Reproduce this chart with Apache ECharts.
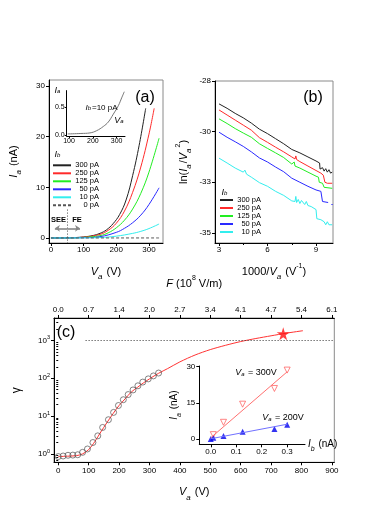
<!DOCTYPE html>
<html><head><meta charset="utf-8">
<script src="https://cdn.jsdelivr.net/npm/echarts@6/dist/echarts.min.js"></script>
<style>html,body{margin:0;padding:0;background:#fff}#c{width:390px;height:505px}</style>
</head><body><div id="c"></div>
<script>
const FONT = 'Liberation Sans';
// ---------- Panel (a): I_a vs V_a ----------
const namesA = ['300 pA','250 pA','125 pA','50 pA','10 pA','0 pA'];
const colorsA = ['#222222','#ff2a2a','#22ee22','#2a2aff','#33eeee','#555555'];
const ia300 = [[0,0],[50,0.02],[100,0.2],[130,0.5],[150,0.9],[170,1.6],[190,2.8],[210,4.6],[230,7.5],[250,12.3],[270,18.3],[290,25.6]];
const ia250 = [[0,0],[50,0.02],[100,0.15],[150,0.7],[175,1.5],[200,2.9],[225,5.3],[250,9.0],[275,14.0],[300,20.5],[316,25.6]];
const ia125 = [[0,0],[50,0.01],[100,0.1],[150,0.45],[175,1.0],[200,2.0],[225,3.5],[250,5.7],[275,8.8],[300,13.0],[331,19.7]];
const ia50  = [[0,0],[100,0.05],[150,0.25],[200,1.1],[225,1.9],[250,3.0],[275,4.5],[300,6.6],[331,9.9]];
const ia10  = [[0,0],[100,0.02],[150,0.08],[200,0.35],[250,0.9],[275,1.3],[300,1.85],[331,2.75]];
const ia0   = [[0,0],[331,0]];
const xTicksA = [0,100,200,300];
const yTicksA = [0,10,20,30];
const seeFeV = 50;            // SEE / FE boundary (V)
const seeFeLine = [5.6,-1];   // vertical extent (nA)
const arrowY = 1.9;           // arrow level (nA)
const arrowEnds = [12,89];    // arrow tips (V)
// inset (a)
const insetA = [[95,0.017],[150,0.025],[188,0.035],[216,0.075],[244,0.15],[265,0.23],[286,0.37],[307,0.52],[321,0.66],[332,0.77]];
const xTicksAi = [100,200,300];
const yTicksAi = [0,0.5];
// ---------- Panel (b): ln(Ia/Va^2) vs 1000/Va ----------
const namesB = ['300 pA','250 pA','125 pA','50 pA','10 pA'];
const lb300 = [[3.0,-29.13],[3.5,-29.35],[4.0,-29.6],[4.5,-29.82],[5.0,-30.08],[5.5,-30.38],[6.0,-30.6],[6.5,-30.85],[7.0,-31.1],[7.5,-31.38],[8.0,-31.55],[8.5,-31.75],[9.0,-31.95],[9.22,-32.05],[9.25,-32.35],[9.4,-32.28],[9.5,-32.45],[9.6,-32.33],[9.7,-32.5],[9.8,-32.38],[9.9,-32.55],[10.0,-32.5]];
const lb250 = [[3.0,-29.43],[3.5,-29.68],[4.0,-29.93],[4.5,-30.18],[5.0,-30.43],[5.5,-30.8],[6.0,-31.03],[6.5,-31.27],[7.0,-31.5],[7.5,-31.75],[7.7,-31.85],[7.75,-31.7],[7.8,-31.88],[8.0,-31.98],[8.5,-32.2],[9.0,-32.42],[9.3,-32.55],[9.45,-32.65],[9.55,-33.0],[9.7,-33.05],[10.0,-33.05]];
const lb125 = [[3.0,-29.87],[3.5,-30.1],[4.0,-30.35],[4.5,-30.57],[5.0,-30.78],[5.5,-31.1],[6.0,-31.33],[6.5,-31.55],[7.0,-31.78],[7.5,-32.1],[7.6,-32.15],[7.65,-32.0],[7.7,-32.2],[8.0,-32.3],[8.5,-32.5],[9.0,-32.7],[9.15,-32.75],[9.2,-33.0],[9.4,-33.05],[9.5,-33.25],[10.0,-33.3]];
const lb50  = [[3.0,-30.53],[3.5,-30.78],[4.0,-31.0],[4.5,-31.23],[5.0,-31.5],[5.5,-31.8],[6.0,-32.0],[6.5,-32.25],[7.0,-32.48],[7.5,-32.8],[8.0,-33.0],[8.5,-33.2],[9.0,-33.38],[9.3,-33.45],[9.4,-33.95],[9.75,-34.0],[9.85,'-'],[9.95,-34.1],[10.03,-34.1]];
const lb10  = [[3.0,-31.81],[3.5,-32.05],[4.0,-32.3],[4.5,-32.5],[4.6,-32.4],[4.7,-32.6],[5.0,-32.75],[5.5,-33.02],[6.0,-33.2],[6.5,-33.45],[7.0,-33.65],[7.5,-33.92],[7.7,-33.95],[7.75,-33.7],[7.8,-34.0],[7.9,-33.85],[8.0,-34.05],[8.1,-33.9],[8.3,-34.1],[8.4,-33.95],[8.5,-34.15],[8.7,-34.2],[9.0,-34.35],[9.05,-34.8],[9.3,-34.85],[9.5,-34.95],[9.6,-35.1],[9.7,-34.95],[9.8,-35.1],[9.9,-35.05],[10.0,-35.1]];
const xTicksB = [3,6,9];
const xMinorB = [4.5,7.5];
const yTicksB = [-35.5,-33,-30.5,-28];
// ---------- Panel (c): gamma vs V_a ----------
const gammaPts = [[0,0.85],[16,0.88],[32,0.92],[48,0.93],[64,0.95],[80,1.1],[96,1.35],[114,2.0],[130,3.0],[146,5.0],[165,8.0],[182,12.5],[198,19],[214,27],[230,37],[246,49],[262,63],[278,79],[296,96],[313,115],[330,137]];
const gammaFit = [[0,0.85],[30,0.87],[60,0.9],[80,1.0],[100,1.3],[120,2.1],[140,3.8],[160,6.7],[180,11.5],[200,19],[220,28.5],[240,43],[260,57],[280,75],[300,96],[330,135],[360,180],[400,270],[450,410],[500,570],[550,740],[600,930],[650,1120],[700,1320],[750,1550],[805,1800]];
const starPt = [[740,1500]];
const refLevel = [90,908,1000];   // dotted reference at gamma = 10^3
const xTicksC = [0,100,200,300,400,500,600,700,800,900];
const yTicksC = [1,10,100,1000];
const yMinorC = [0.7,0.8,0.9,2,3,4,5,6,7,8,9,20,30,40,50,60,70,80,90,200,300,400,500,600,700,800,900,2000,3000];
const fieldPerVolt = 0.00678;     // F (10^8 V/m) per volt
// inset (c)
const ib = [0,0.01,0.05,0.125,0.25,0.3];
const ia300V = [null,1.9,7.0,14.5,21.0,28.6];
const ia200V = [0.1,0.6,1.3,3.1,4.2,6.0];
const fit300V = [[0,0.6],[0.3,27.9]];
const fit200V = [[0,0.2],[0.3,6.2]];
const xTicksCi = [0,0.1,0.2,0.3];
const yTicksCi = [0,15,30];

function rt(fs){
  return {
    i:{fontStyle:'italic',fontSize:fs,fontFamily:FONT,color:'#000'},
    n:{fontSize:fs,fontFamily:FONT,color:'#000'},
    sub:{fontStyle:'italic',fontSize:Math.round(fs*0.72),fontFamily:FONT,color:'#000',verticalAlign:'bottom',lineHeight:Math.round(fs*0.72),padding:[0,1,0,0]},
    sup:{fontSize:Math.round(fs*0.68),fontFamily:FONT,color:'#000',verticalAlign:'top',lineHeight:Math.round(fs*0.68)},
    g:{fontSize:fs+1,fontFamily:FONT,color:'#000'}
  };
}
function nameStyle(fs){return {fontSize:fs,fontFamily:FONT,color:'#000',lineHeight:Math.round(fs*1.6),rich:rt(fs)};}
const lbl = (fs,extra)=>Object.assign({fontSize:fs,fontFamily:FONT,color:'#000',margin:3},extra||{});
function vAxis(o){
  const base = {type:'value',splitLine:{show:false},axisLine:{show:true,onZero:false,lineStyle:{color:'#000',width:1}},
    axisTick:{show:true,inside:false,length:3,lineStyle:{color:'#000'}},nameTextStyle:nameStyle(11)};
  return Object.assign(base,o);
}
function minorAxis(o,vals){
  return Object.assign({type:'value',axisLine:{show:false},splitLine:{show:false},axisLabel:{show:false},
    axisTick:{show:true,inside:false,length:2,customValues:vals,lineStyle:{color:'#000'}}},o);
}

const gridBorder = {show:true,borderColor:'#8a8a8a',borderWidth:1,backgroundColor:'transparent'};
const grids = [
  Object.assign({left:49,top:80,width:114,height:163},gridBorder),
  {left:66.7,top:90.6,width:58.3,height:45.4,show:false},
  Object.assign({left:215,top:81,width:118,height:162},gridBorder),
  Object.assign({left:46.7,top:318,width:287.6,height:144.3},gridBorder),
  {left:199.3,top:366,width:105.7,height:78.3,show:false}
];

const xAxes = [
  vAxis({gridIndex:0,min:-6,max:343,axisTick:{show:true,length:3,customValues:xTicksA,lineStyle:{color:'#000'}},
    axisLabel:lbl(8,{customValues:xTicksA}),name:'{i|V}{sub|a} (V)',nameLocation:'middle',nameGap:20}),
  vAxis({gridIndex:1,min:90.4,max:335,axisTick:{show:true,length:2,customValues:xTicksAi,lineStyle:{color:'#000'}},
    axisLabel:lbl(7,{customValues:xTicksAi,margin:2})}),
  vAxis({gridIndex:2,min:2.75,max:10.05,axisTick:{show:true,length:3,customValues:xTicksB,lineStyle:{color:'#000'}},
    axisLabel:lbl(8,{customValues:xTicksB}),name:'1000/{i|V}{sub|a} (V{sup|-1})',nameLocation:'middle',nameGap:20}),
  minorAxis({gridIndex:2,min:2.75,max:10.05,position:'bottom'},xMinorB),
  vAxis({gridIndex:3,min:-14,max:908,axisTick:{show:true,length:3,customValues:xTicksC,lineStyle:{color:'#000'}},
    axisLabel:lbl(8,{customValues:xTicksC,margin:4}),name:'{i|V}{sub|a} (V)',nameLocation:'middle',nameGap:21}),
  vAxis({gridIndex:3,min:-14,max:908,position:'top',axisTick:{show:true,length:3,customValues:xTicksC,lineStyle:{color:'#000'}},
    axisLabel:lbl(8,{customValues:xTicksC,margin:4,formatter:v=>(v*fieldPerVolt).toFixed(1)}),
    name:'{i|F} (10{sup|8} V/m)',nameLocation:'middle',nameGap:25}),
  vAxis({gridIndex:4,min:-0.045,max:0.37,axisTick:{show:true,length:3,customValues:xTicksCi,lineStyle:{color:'#000'}},
    axisLabel:lbl(8,{customValues:xTicksCi,formatter:v=>v.toFixed(1)}),
    name:'{i|I}{sub|b} (nA)',nameLocation:'end',nameGap:3,nameTextStyle:Object.assign(nameStyle(10),{verticalAlign:'middle'})})
];
const yAxes = [
  vAxis({gridIndex:0,min:-1,max:31.2,axisTick:{show:true,length:3,customValues:yTicksA,lineStyle:{color:'#000'}},
    axisLabel:lbl(8,{customValues:yTicksA,margin:4}),name:'{i|I}{sub|a} (nA)',nameLocation:'middle',nameGap:26}),
  vAxis({gridIndex:1,min:-0.02,max:0.79,axisTick:{show:true,length:2,customValues:yTicksAi,lineStyle:{color:'#000'}},
    axisLabel:lbl(7,{customValues:yTicksAi,formatter:v=>v.toFixed(1),margin:2})}),
  vAxis({gridIndex:2,min:-36,max:-28,axisTick:{show:true,length:3,customValues:yTicksB,lineStyle:{color:'#000'}},
    axisLabel:lbl(8,{customValues:yTicksB,formatter:v=>String(Math.round(v)),margin:4}),
    name:'ln({i|I}{sub|a}/{i|V}{sub|a}{sup|2})',nameLocation:'middle',nameGap:22}),
  vAxis({gridIndex:3,type:'log',logBase:10,min:0.6,max:3900,axisTick:{show:true,length:3,customValues:yTicksC,lineStyle:{color:'#000'}},
    axisLabel:lbl(8,{customValues:yTicksC,margin:4,lineHeight:11,formatter:v=>'10{sup|'+Math.round(Math.log10(v))+'}',
      rich:{sup:{fontSize:5.5,fontFamily:FONT,color:'#000',verticalAlign:'top',lineHeight:6}}}),
    name:'{g|γ}',nameLocation:'middle',nameGap:28}),
  minorAxis({gridIndex:3,type:'log',logBase:10,min:0.6,max:3900,position:'left'},yMinorC),
  vAxis({gridIndex:4,min:-2.1,max:30.3,axisTick:{show:true,length:3,customValues:yTicksCi,lineStyle:{color:'#000'}},
    axisLabel:lbl(8,{customValues:yTicksCi,margin:4}),name:'{i|I}{sub|a} (nA)',nameLocation:'middle',nameGap:17,nameTextStyle:nameStyle(10)})
];

const series = [];
[ia300,ia250,ia125,ia50,ia10,ia0].forEach((d,k)=>{
  const s = {type:'line',name:namesA[k],xAxisIndex:0,yAxisIndex:0,data:d,smooth:0.4,symbol:'none',
    lineStyle:{color:colorsA[k],width:1,type:k===5?[3,2]:'solid'},itemStyle:{color:colorsA[k]},z:3};
  if(k===5){
    s.markLine = {silent:true,symbol:'none',label:{show:false},animation:false,
      data:[
        [{coord:[seeFeV,seeFeLine[0]],lineStyle:{type:[1,2],color:'#444',width:1}},{coord:[seeFeV,seeFeLine[1]]}],
        [{coord:[seeFeV,arrowY],symbol:'none',lineStyle:{type:'solid',color:'#888',width:1.6}},{coord:[arrowEnds[0],arrowY],symbol:'arrow',symbolSize:[5,5]}],
        [{coord:[seeFeV,arrowY],symbol:'none',lineStyle:{type:'solid',color:'#888',width:1.6}},{coord:[arrowEnds[1],arrowY],symbol:'arrow',symbolSize:[5,5]}]
      ]};
  }
  series.push(s);
});
series.push({type:'line',name:'insetA',xAxisIndex:1,yAxisIndex:1,data:insetA,smooth:0.4,symbol:'none',lineStyle:{color:'#777',width:1}});
[lb300,lb250,lb125,lb50,lb10].forEach((d,k)=>{
  series.push({type:'line',name:namesB[k],xAxisIndex:2,yAxisIndex:2,data:d,symbol:'none',connectNulls:false,
    lineStyle:{color:colorsA[k],width:1},itemStyle:{color:colorsA[k]}});
});
series.push({type:'line',name:'fit',xAxisIndex:4,yAxisIndex:3,data:gammaFit,smooth:0.3,symbol:'none',
  lineStyle:{color:'#ff3333',width:1},z:2,
  markLine:{silent:true,symbol:'none',label:{show:false},lineStyle:{type:[1,2],color:'#333',width:1},
    data:[[{coord:[refLevel[0],refLevel[2]]},{coord:[refLevel[1],refLevel[2]]}]]}});
series.push({type:'scatter',name:'gamma',xAxisIndex:4,yAxisIndex:3,data:gammaPts,symbol:'circle',symbolSize:6,
  itemStyle:{color:'rgba(0,0,0,0)',borderColor:'#555',borderWidth:0.9},z:4});
series.push({type:'scatter',name:'star',xAxisIndex:4,yAxisIndex:3,data:starPt,
  symbol:'path://M50,0 L61,35 L98,35 L68,57 L79,91 L50,70 L21,91 L32,57 L2,35 L39,35 Z',symbolSize:13,
  itemStyle:{color:'#ff1010'},z:5});
series.push({type:'line',name:'fit300',xAxisIndex:6,yAxisIndex:5,data:fit300V,symbol:'none',lineStyle:{color:'#ff7070',width:1}});
series.push({type:'line',name:'fit200',xAxisIndex:6,yAxisIndex:5,data:fit200V,symbol:'none',lineStyle:{color:'#7070ff',width:1}});
series.push({type:'scatter',name:'p300',xAxisIndex:6,yAxisIndex:5,data:ib.map((x,i)=>[x,ia300V[i]]).filter(p=>p[1]!==null),
  symbol:'triangle',symbolRotate:180,symbolSize:6,itemStyle:{color:'rgba(0,0,0,0)',borderColor:'#ff5555',borderWidth:0.9}});
series.push({type:'scatter',name:'p200',xAxisIndex:6,yAxisIndex:5,data:ib.map((x,i)=>[x,ia200V[i]]),
  symbol:'triangle',symbolSize:6,itemStyle:{color:'#0000ee'}});

function legend(names,left,top,w,tw){
  return {data:names,left:left,top:top,orient:'vertical',itemWidth:w,itemHeight:8,itemGap:0,selectedMode:false,
    padding:0,itemStyle:{opacity:0,borderWidth:0},
    formatter:n=>'{r|'+n+'}',
    textStyle:{fontSize:7.5,fontFamily:FONT,color:'#000',lineHeight:8,padding:[0,0,0,-3],
      rich:{r:{width:tw,align:'right',fontSize:7.5,lineHeight:8,fontFamily:FONT,color:'#000'}}}};
}

function txt(x,y,text,fs,extra){
  return {type:'text',x:x,y:y,silent:true,z:100,
    style:Object.assign({text:text,fontSize:fs,fontFamily:FONT,fill:'#000',align:'center',verticalAlign:'middle',rich:rt(fs)},extra||{})};
}

const graphic = [
  txt(145,98,'(a)',16),
  txt(313,98,'(b)',16),
  txt(66,333,'(c)',16),
  txt(58,154,'{i|I}{sub|b}',9),
  txt(225,192,'{i|I}{sub|b}',9),
  txt(58.5,220,'SEE',7.5,{fontWeight:'bold'}),
  txt(77,220,'FE',7.5,{fontWeight:'bold'}),
  txt(58,90,'{i|I}{sub|a}',9),
  txt(101.5,107.5,'{i|I}{sub|b}=10 pA',8),
  txt(119.5,120,'{i|V}{sub|a}',9),
  txt(256,372.5,'{i|V}{sub|a} = 300V',9),
  txt(283,417.5,'{i|V}{sub|a} = 200V',9)
];

const option = {
  animation:false,
  backgroundColor:'#fff',
  textStyle:{fontFamily:FONT},
  grid:grids,xAxis:xAxes,yAxis:yAxes,series:series,
  legend:[legend(namesA,52,161.3,18,26),legend(namesB,219,196,13,26)],
  graphic:graphic
};
const chart = echarts.init(document.getElementById('c'),null,{renderer:'canvas'});
chart.setOption(option);
</script></body></html>
